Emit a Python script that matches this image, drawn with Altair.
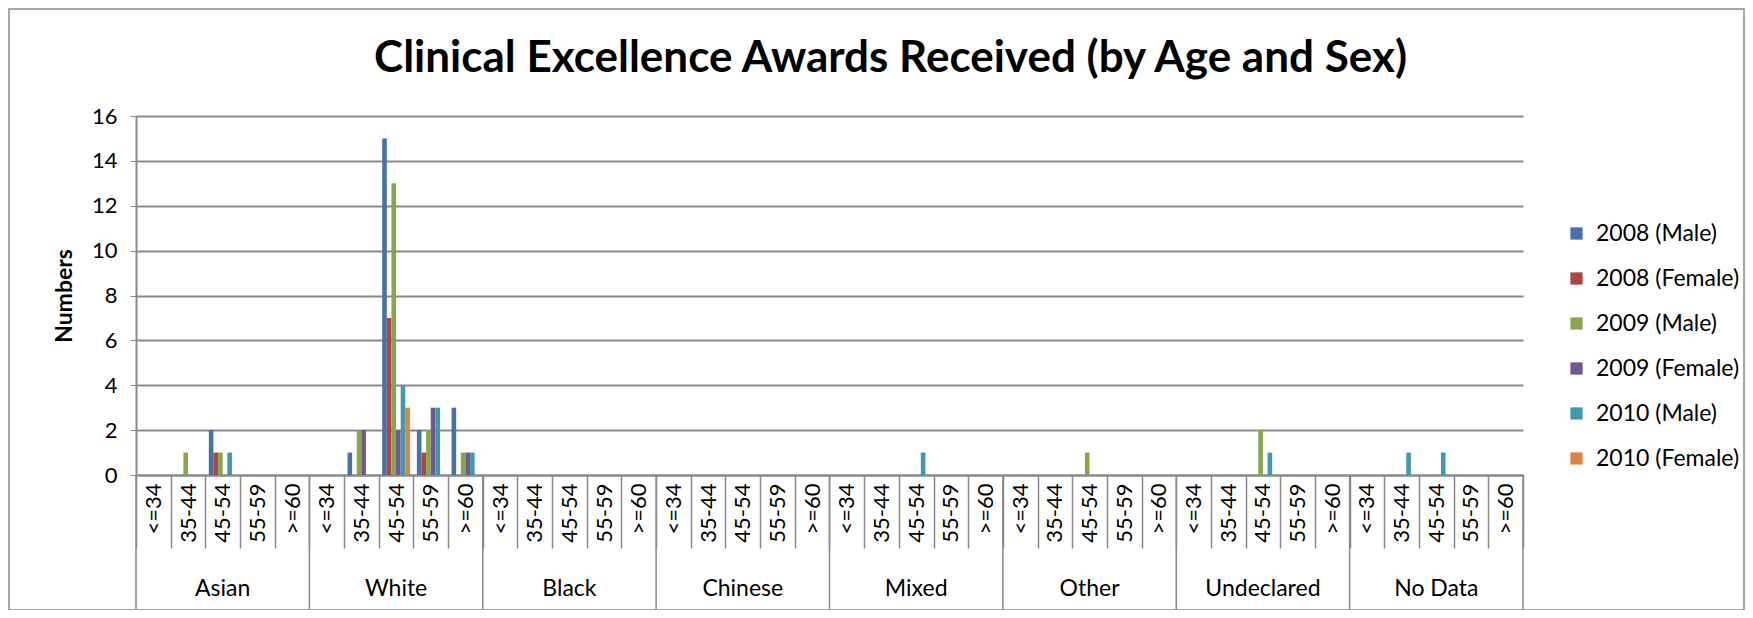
import altair as alt
import pandas as pd

groups = ["Asian", "White", "Black", "Chinese", "Mixed", "Other", "Undeclared", "No Data"]
ages = ["<=34", "35-44", "45-54", "55-59", ">=60"]
series = ["2008 (Male)", "2008 (Female)", "2009 (Male)", "2009 (Female)", "2010 (Male)", "2010 (Female)"]
colors = ["#4572A7", "#AA4643", "#89A54E", "#71588F", "#4198AF", "#DB843D"]

# values per series, 5 age bands per group in the order of `groups`
v2008_male = [0, 0, 2, 0, 0,  0, 1, 15, 2, 3,  0, 0, 0, 0, 0,  0, 0, 0, 0, 0,
              0, 0, 0, 0, 0,  0, 0, 0, 0, 0,  0, 0, 0, 0, 0,  0, 0, 0, 0, 0]
v2008_female = [0, 0, 1, 0, 0,  0, 0, 7, 1, 0,  0, 0, 0, 0, 0,  0, 0, 0, 0, 0,
                0, 0, 0, 0, 0,  0, 0, 0, 0, 0,  0, 0, 0, 0, 0,  0, 0, 0, 0, 0]
v2009_male = [0, 1, 1, 0, 0,  0, 2, 13, 2, 1,  0, 0, 0, 0, 0,  0, 0, 0, 0, 0,
              0, 0, 0, 0, 0,  0, 0, 1, 0, 0,  0, 0, 2, 0, 0,  0, 0, 0, 0, 0]
v2009_female = [0, 0, 0, 0, 0,  0, 2, 2, 3, 1,  0, 0, 0, 0, 0,  0, 0, 0, 0, 0,
                0, 0, 0, 0, 0,  0, 0, 0, 0, 0,  0, 0, 0, 0, 0,  0, 0, 0, 0, 0]
v2010_male = [0, 0, 1, 0, 0,  0, 0, 4, 3, 1,  0, 0, 0, 0, 0,  0, 0, 0, 0, 0,
              0, 0, 1, 0, 0,  0, 0, 0, 0, 0,  0, 0, 1, 0, 0,  0, 1, 1, 0, 0]
v2010_female = [0, 0, 0, 0, 0,  0, 0, 3, 0, 0,  0, 0, 0, 0, 0,  0, 0, 0, 0, 0,
                0, 0, 0, 0, 0,  0, 0, 0, 0, 0,  0, 0, 0, 0, 0,  0, 0, 0, 0, 0]
all_values = [v2008_male, v2008_female, v2009_male, v2009_female, v2010_male, v2010_female]

keys = [f"{g}|{a}" for g in groups for a in ages]

rows = []
for s, vals in zip(series, all_values):
    for k, v in zip(keys, vals):
        rows.append({"key": k, "series": s, "value": v})
df = pd.DataFrame(rows)
df_bars = df[df["value"] > 0]

FONT = "Lato"
W, H = 1387, 359
GRAY = "#898989"

x_scale = alt.Scale(domain=keys, paddingInner=0, paddingOuter=0)

bars = alt.Chart(df_bars).mark_bar().encode(
    x=alt.X("key:N", scale=x_scale, title=None,
            axis=alt.Axis(tickBand="extent", tickSize=73, tickColor=GRAY, tickWidth=1.5,
                          labelAngle=270, labelExpr="split(datum.label, '|')[1]",
                          labelPadding=-65, labelFontSize=22, labelFont=FONT, labelColor="#000000",
                          domainColor=GRAY, domainWidth=2, grid=False)),
    xOffset=alt.XOffset("series:N", sort=series,
                        scale=alt.Scale(domain=series, paddingInner=0, paddingOuter=0.75)),
    y=alt.Y("value:Q", scale=alt.Scale(domain=[0, 16]), title="Numbers",
            axis=alt.Axis(values=list(range(0, 17, 2)), tickSize=6, tickColor=GRAY,
                          labelPadding=13, labelFontSize=22, labelFont=FONT, labelColor="#000000",
                          titleFont=FONT, titleFontSize=23, titleFontWeight="bold",
                          titleX=-72, titleY=H / 2, titleAngle=270, titleBaseline="middle",
                          gridColor=GRAY, gridWidth=2, domainColor=GRAY, domainWidth=2)),
    color=alt.Color("series:N", sort=series, scale=alt.Scale(domain=series, range=colors),
                    legend=alt.Legend(title=None, orient="none", legendX=1429, legendY=106,
                                      symbolType="square", symbolSize=150, symbolStrokeWidth=0,
                                      labelFont=FONT, labelFontSize=23, labelColor="#000000",
                                      rowPadding=21, labelOffset=8)),
)

grp_df = pd.DataFrame({"key": [f"{g}|{ages[2]}" for g in groups], "group": groups})
group_labels = alt.Chart(grp_df).mark_text(font=FONT, fontSize=23, baseline="middle",
                                           color="#000000").encode(
    x=alt.X("key:N", scale=x_scale),
    y=alt.value(473),
    text="group:N",
)

div_df = pd.DataFrame({"key": [f"{g}|{ages[0]}" for g in groups]})
dividers = alt.Chart(div_df).mark_rule(color=GRAY, strokeWidth=1.5).encode(
    x=alt.X("key:N", scale=x_scale, bandPosition=0),
    y=alt.value(H),
    y2=alt.value(H + 134),
)
end_df = pd.DataFrame({"key": [keys[-1]]})
end_div = alt.Chart(end_df).mark_rule(color=GRAY, strokeWidth=1.5).encode(
    x=alt.X("key:N", scale=x_scale, bandPosition=1),
    y=alt.value(H),
    y2=alt.value(H + 134),
)

frame = alt.Chart(pd.DataFrame({"f": [0]})).mark_rect(
    fill=None, stroke=GRAY, strokeWidth=1.5).encode(
    x=alt.value(-127), x2=alt.value(1608), y=alt.value(-107), y2=alt.value(H + 135),
)

chart = alt.layer(frame, bars, group_labels, dividers, end_div).properties(
    width=W, height=H,
    autosize=alt.AutoSizeParams(type="none"),
    padding={"left": 128, "top": 108, "right": 222, "bottom": 135},
    title=alt.TitleParams("Clinical Excellence Awards Received (by Age and Sex)",
                          font=FONT, fontSize=44, fontWeight="bold", color="#000000",
                          anchor="middle", frame="group", dx=61, dy=73, offset=0),
).configure_view(stroke=None)

chart.save("out.html", embed_options={"renderer": "svg", "actions": False})
